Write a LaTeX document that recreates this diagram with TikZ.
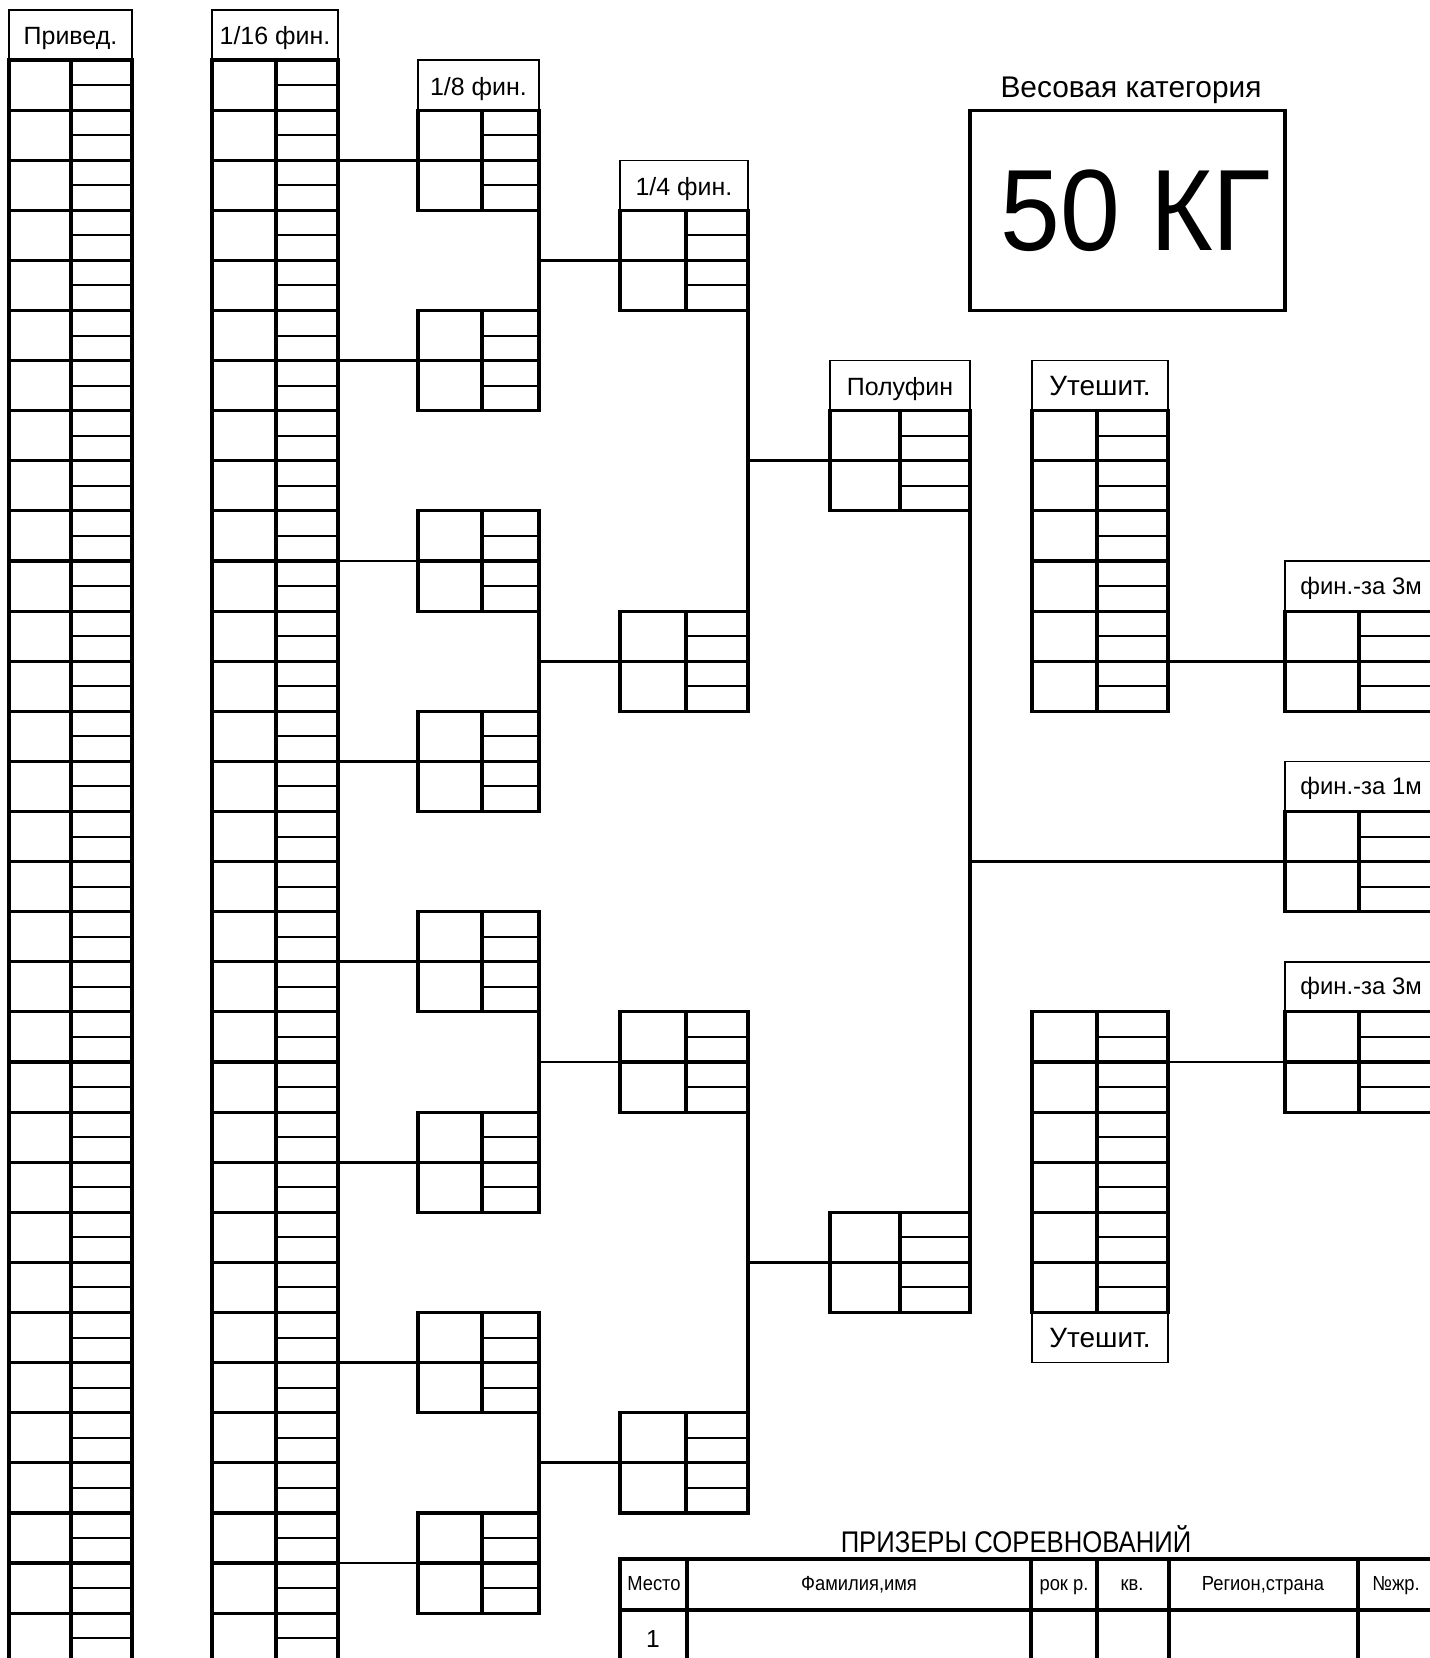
\documentclass[tikz,border=0pt]{standalone}
\usepackage{fontspec}
\setmainfont{Liberation Sans}
\usepackage{graphicx}
\tikzset{
  thk/.style={line width=1.8pt, line cap=rect},
  thn/.style={line width=1.15pt},
  hdrline/.style={line width=0.8pt},
  conn/.style={line width=1.6pt},
  tbl/.style={line width=2.6pt, line cap=rect},
  lbl/.style={inner sep=0pt, anchor=base},
  boxline/.style={line width=1.8pt},
}
\newcommand\hfont{\fontsize{14.2pt}{16pt}\selectfont}
\newcommand\ufont{\fontsize{15.9pt}{18pt}\selectfont}
\newcommand\ffont{\fontsize{13.6pt}{16pt}\selectfont}
\newcommand\tfont{\fontsize{11.6pt}{13pt}\selectfont}
% block of participant rows: xl xm xr k0 n
\newcommand\pgrid[5]{%
  \pgfmathsetmacro\gyt{60+50.1*(#4)}%
  \pgfmathsetmacro\gyb{60+50.1*(#4+#5)}%
  \pgfmathtruncatemacro\gnm{#5-1}%
  \foreach \j in {0,...,\gnm}{\draw[thn] (#2,{60+50.1*(#4+\j)+25.05}) -- (#3,{60+50.1*(#4+\j)+25.05});}
  \draw[thk] (#1,\gyt) -- (#1,\gyb) (#2,\gyt) -- (#2,\gyb) (#3,\gyt) -- (#3,\gyb);
  \foreach \j in {0,...,#5}{\draw[thk] (#1,{60+50.1*(#4+\j)}) -- (#3,{60+50.1*(#4+\j)});}
}
% header box: name xl xr k text
\newcommand\hdrbox[5]{%
  \draw[hdrline] (#2,{60+50.1*(#4)}) rectangle (#3,{60+50.1*(#4+1)});
  \node[lbl] (#1) at ({(#2+#3)/2},{60+50.1*(#4)+35}) {#5};
}
\begin{document}
\begin{tikzpicture}[x=0.02cm,y=-0.02cm]
\useasboundingbox (0,0) rectangle (1430,1658);
\clip (0,0) rectangle (1430,1658);
\fill[white] (0,0) rectangle (1430,1658);

% headers
\hdrbox{hPriv}{9}{132}{-1}{\hfont Привед.}
\hdrbox{h16}{212}{338}{-1}{\hfont 1/16 фин.}
\hdrbox{h8}{418}{539}{0}{\hfont 1/8 фин.}
\hdrbox{h4}{620}{748}{2}{\hfont 1/4 фин.}
\hdrbox{hSemi}{830}{970}{6}{\hfont Полуфин}
\hdrbox{hUt}{1032}{1168}{6}{\ufont Утешит.}
\hdrbox{hUtB}{1032}{1168}{25}{\ufont Утешит.}
\draw[hdrline] (1285,{60+50.1*10}) rectangle (1480,{60+50.1*11});
\node[lbl, anchor=base west] (hF3a) at (1300,{60+50.1*10+33}) {\ffont фин.-за 3м};
\draw[hdrline] (1285,{60+50.1*14}) rectangle (1480,{60+50.1*15});
\node[lbl, anchor=base west] (hF1) at (1300,{60+50.1*14+33}) {\ffont фин.-за 1м};
\draw[hdrline] (1285,{60+50.1*18}) rectangle (1480,{60+50.1*19});
\node[lbl, anchor=base west] (hF3b) at (1300,{60+50.1*18+33}) {\ffont фин.-за 3м};

% participant grids
\pgrid{9}{71}{132}{0}{32}
\pgrid{212}{276}{338}{0}{32}
\foreach \k in {1,5,9,13,17,21,25,29}{\pgrid{418}{482}{539}{\k}{2}}
\foreach \k in {3,11,19,27}{\pgrid{620}{686}{748}{\k}{2}}
\foreach \k in {7,23}{\pgrid{830}{900}{970}{\k}{2}}
\pgrid{1032}{1097}{1168}{7}{6}
\pgrid{1032}{1097}{1168}{19}{6}
\foreach \k in {11,15,19}{\pgrid{1285}{1359}{1480}{\k}{2}}

% connectors 1/16 -> 1/8
\foreach \j in {0,...,7}{
  \coordinate (a16-\j) at (338,{60+50.1*(2+4*\j)});
  \coordinate (a8-\j) at (418,{60+50.1*(2+4*\j)});
  \draw[conn] (a16-\j) -- (a8-\j);
}
% 1/8 -> 1/4
\foreach \k in {1,9,17,25}{
  \coordinate (v8t-\k) at (539,{60+50.1*(\k+2)});
  \coordinate (v8b-\k) at (539,{60+50.1*(\k+4)});
  \coordinate (v8m-\k) at (539,{60+50.1*(\k+3)});
  \coordinate (q4-\k) at (620,{60+50.1*(\k+3)});
  \draw[thk] (v8t-\k) -- (v8b-\k);
  \draw[conn] (v8m-\k) -- (q4-\k);
}
% 1/4 -> semifinal
\foreach \k in {3,19}{
  \coordinate (v4t-\k) at (748,{60+50.1*(\k+2)});
  \coordinate (v4b-\k) at (748,{60+50.1*(\k+8)});
  \coordinate (v4m-\k) at (748,{60+50.1*(\k+5)});
  \coordinate (s-\k) at (830,{60+50.1*(\k+5)});
  \draw[thk] (v4t-\k) -- (v4b-\k);
  \draw[conn] (v4m-\k) -- (s-\k);
}
% semifinal -> final
\coordinate (vst) at (970,{60+50.1*9});
\coordinate (vsb) at (970,{60+50.1*23});
\coordinate (vsm) at (970,{60+50.1*16});
\coordinate (f1) at (1285,{60+50.1*16});
\draw[thk] (vst) -- (vsb);
\draw[conn] (vsm) -- (f1);
% consolation -> 3rd place finals
\coordinate (ua) at (1168,{60+50.1*12});
\coordinate (f3a) at (1285,{60+50.1*12});
\draw[conn] (ua) -- (f3a);
\coordinate (ub) at (1168,{60+50.1*20});
\coordinate (f3b) at (1285,{60+50.1*20});
\draw[conn] (ub) -- (f3b);

% weight category
\node[lbl] (wcap) at (1131,97) {\fontsize{17pt}{20pt}\selectfont Весовая категория};
\draw[boxline] (970,{60+50.1}) rectangle (1285,{60+50.1*5});
\node[lbl] (wval) at (1136,250) {\scalebox{0.93}[1]{\fontsize{65.8pt}{70pt}\selectfont 50 КГ}};

% prize table
\node[lbl] (ptitle) at (1016,1552) {\scalebox{0.86}[1]{\fontsize{17pt}{19pt}\selectfont ПРИЗЕРЫ СОРЕВНОВАНИЙ}};
\draw[tbl] (620,1559) -- (1500,1559) (620,1610) -- (1500,1610) (620,1660) -- (1500,1660);
\foreach \x in {620,687,1031,1097,1169,1358}{\draw[tbl] (\x,1559) -- (\x,1660);}
\node[lbl] (tM) at (654,1590) {\scalebox{0.9}[1]{\tfont Место}};
\node[lbl] (tF) at (859,1590) {\scalebox{0.9}[1]{\tfont Фамилия,имя}};
\node[lbl] (tR) at (1064,1590) {\scalebox{0.9}[1]{\tfont рок р.}};
\node[lbl] (tK) at (1132,1590) {\scalebox{0.9}[1]{\tfont кв.}};
\node[lbl] (tRS) at (1263,1590) {\scalebox{0.9}[1]{\tfont Регион,страна}};
\node[lbl] (tN) at (1396,1590) {\scalebox{0.9}[1]{\tfont №жр.}};
\node[lbl] (t1) at (653,1647) {\fontsize{14pt}{16pt}\selectfont 1};
\end{tikzpicture}
\end{document}
